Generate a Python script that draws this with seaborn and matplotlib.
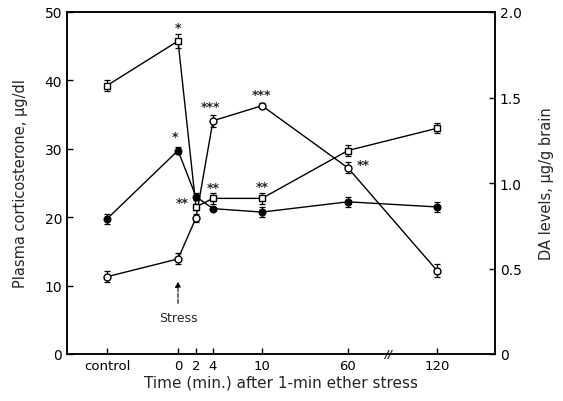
import matplotlib
matplotlib.use("Agg")
import matplotlib.pyplot as plt
import seaborn as sns
import pandas as pd

# ---- data ----
time_labels = ["control", "0", "2", "4", "10", "60", "120"]
# x-axis scale (broken, non-linear time axis) expressed in axis units
x_scale = [107, 178, 196, 213, 262, 348, 437]

cort = [11.3, 13.9, 19.9, 34.1, 36.3, 27.2, 12.2]          # µg/dl (left)
cort_err = [0.8, 0.8, 0.6, 0.9, 0.4, 0.8, 1.0]
da_open = [1.57, 1.83, 0.86, 0.91, 0.91, 1.19, 1.32]       # µg/g (right)
da_open_err = [0.03, 0.04, 0.02, 0.03, 0.03, 0.03, 0.03]
da_fill = [0.79, 1.19, 0.92, 0.85, 0.83, 0.89, 0.86]       # µg/g (right)
da_fill_err = [0.03, 0.02, 0.02, 0.01, 0.03, 0.03, 0.03]

left_ticks = [0, 10, 20, 30, 40, 50]
right_ticks = [0, 0.5, 1.0, 1.5, 2.0]
right_tick_labels = ["0", "0.5", "1.0", "1.5", "2.0"]

sns.set_theme(style="ticks")
plt.rcParams["font.family"] = ["DejaVu Sans"]

fig = plt.figure(figsize=(5.63, 4.02), dpi=100)
ax = fig.add_axes([67/563, 1-355/402, (495-67)/563, (355-13)/402])
ax2 = ax.twinx()

df = pd.DataFrame({"x": x_scale, "cort": cort, "da_open": da_open, "da_fill": da_fill})

# corticosterone: open circles on left axis
sns.lineplot(data=df, x="x", y="cort", ax=ax, color="black", lw=1.0,
             marker="o", markersize=5, markerfacecolor="white",
             markeredgecolor="black", markeredgewidth=1.0, zorder=3)
ax.errorbar(x_scale, cort, yerr=cort_err, fmt="none", ecolor="black",
            elinewidth=0.9, capsize=2.0, capthick=0.9, zorder=2)

# DA: open squares & filled circles on right axis
sns.lineplot(data=df, x="x", y="da_open", ax=ax2, color="black", lw=1.0,
             marker="s", markersize=4.5, markerfacecolor="white",
             markeredgecolor="black", markeredgewidth=1.0, zorder=3)
ax2.errorbar(x_scale, da_open, yerr=da_open_err, fmt="none", ecolor="black",
             elinewidth=0.9, capsize=2.0, capthick=0.9, zorder=2)
sns.lineplot(data=df, x="x", y="da_fill", ax=ax2, color="black", lw=1.0,
             marker="o", markersize=5, markerfacecolor="black",
             markeredgecolor="black", zorder=3)
ax2.errorbar(x_scale, da_fill, yerr=da_fill_err, fmt="none", ecolor="black",
             elinewidth=0.9, capsize=2.0, capthick=0.9, zorder=2)

ax.set_xlim(67, 495)
ax.set_ylim(0, 50)
ax2.set_ylim(0, 2.0)

ax.set_xticks(x_scale)
ax.set_xticklabels(time_labels, fontsize=9.5)
ax.set_yticks(left_ticks)
ax.set_yticklabels([str(t) for t in left_ticks], fontsize=10)
ax2.set_yticks(right_ticks)
ax2.set_yticklabels(right_tick_labels, fontsize=10)

for a in (ax, ax2):
    a.tick_params(direction="in", length=4, width=1.0, colors="black")
    for s in a.spines.values():
        s.set_visible(True)
        s.set_linewidth(1.1)
        s.set_color("black")

ax.set_xlabel("Time (min.) after 1-min ether stress", fontsize=11, labelpad=2)
ax.set_ylabel("Plasma corticosterone, µg/dl", fontsize=10.5, labelpad=12)
ax2.set_ylabel("DA levels, µg/g brain", fontsize=10.5, labelpad=12, rotation=90)
ax2.grid(False)
ax.grid(False)

# significance marks (offsets in pixels)
def mark(a, i, yvals, txt, dx, dy):
    a.annotate(txt, (x_scale[i], yvals[i]), xytext=(dx, dy), textcoords="offset pixels",
               ha="center", va="center", fontsize=9, fontweight="bold")

mark(ax2, 1, da_open, "*", 0, 14)
mark(ax2, 1, da_fill, "*", -3, 14)
mark(ax2, 2, da_open, "**", -14, 4)
mark(ax, 3, cort, "***", -2, 14)
mark(ax2, 3, da_open, "**", 0, 11)
mark(ax, 4, cort, "***", 0, 11)
mark(ax2, 4, da_open, "**", 0, 12)
mark(ax, 5, cort, "**", 15, 3)

# stress arrow
ax.annotate("", xy=(x_scale[1], 11.0), xytext=(x_scale[1], 7.0),
            arrowprops=dict(arrowstyle="-|>", color="black", lw=0.8, ls="--",
                            mutation_scale=8))
ax.text(x_scale[1], 5.4, "Stress", ha="center", va="center", fontsize=9)

# axis break mark
ax.text(388, 0, "//", ha="center", va="center", fontsize=8, fontweight="bold",
        style="italic", clip_on=False, zorder=5)

fig.savefig("out.png", dpi=100, facecolor="white")
